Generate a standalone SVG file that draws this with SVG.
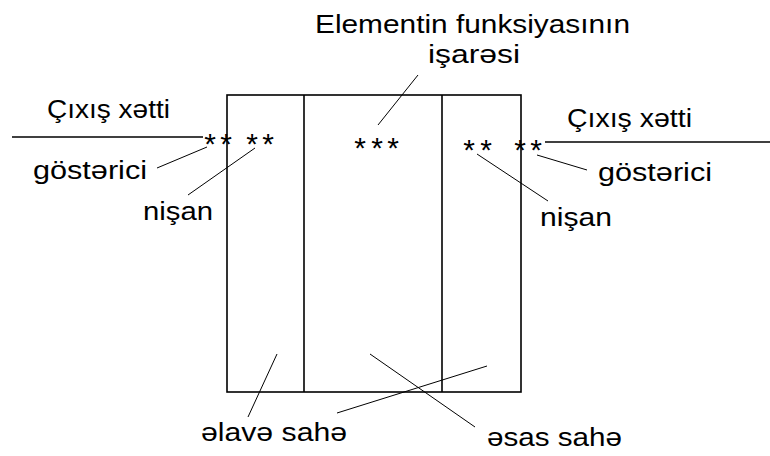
<svg xmlns="http://www.w3.org/2000/svg" width="770" height="456" viewBox="0 0 770 456">
<style>
text{font-family:"Liberation Sans",Arial,sans-serif;font-size:26px;fill:#000}
.ast{font-size:30px;text-anchor:middle}
.box{fill:none;stroke:#000;stroke-width:1.6}
.ln{stroke:#000;stroke-width:1.6;fill:none}
.ld{stroke:#000;stroke-width:1;fill:none}
</style>
<rect width="770" height="456" fill="#fff"/>
<g id="element">
<rect class="box" x="227" y="95" width="294" height="297"/>
<line class="box" x1="304" y1="95" x2="304" y2="392"/>
<line class="box" x1="442" y1="95" x2="442" y2="392"/>
<text class="ast" x="210 226 252 268" y="154">****</text>
<text class="ast" x="360 377 393" y="158">***</text>
<text class="ast" x="469 486 520 536" y="160">****</text>
</g>
<g id="title">
<text x="315" y="33" textLength="315" lengthAdjust="spacingAndGlyphs">Elementin funksiyasının</text>
<text x="428" y="63" textLength="92" lengthAdjust="spacingAndGlyphs">işarəsi</text>
</g>
<g id="left-labels">
<text x="47" y="118" textLength="123" lengthAdjust="spacingAndGlyphs">Çıxış xətti</text>
<text x="33" y="179" textLength="114" lengthAdjust="spacingAndGlyphs">göstərici</text>
<text x="143" y="220" textLength="70" lengthAdjust="spacingAndGlyphs">nişan</text>
</g>
<g id="right-labels">
<text x="567" y="127" textLength="125" lengthAdjust="spacingAndGlyphs">Çıxış xətti</text>
<text x="598" y="181" textLength="114" lengthAdjust="spacingAndGlyphs">göstərici</text>
<text x="540" y="226" textLength="72" lengthAdjust="spacingAndGlyphs">nişan</text>
</g>
<g id="bottom-labels">
<text x="201" y="441" textLength="146" lengthAdjust="spacingAndGlyphs">əlavə sahə</text>
<text x="487" y="446" textLength="135" lengthAdjust="spacingAndGlyphs">əsas sahə</text>
</g>
<g id="connectors">
<line class="ln" x1="12" y1="137" x2="203" y2="137"/>
<line class="ln" x1="545" y1="142" x2="770" y2="142"/>
<line class="ld" x1="157" y1="168" x2="207" y2="147"/>
<line class="ld" x1="188" y1="195" x2="255" y2="148"/>
<line class="ld" x1="537" y1="155" x2="587" y2="170"/>
<line class="ld" x1="477" y1="154" x2="548" y2="201"/>
<line class="ld" x1="418" y1="75" x2="378" y2="125"/>
<line class="ld" x1="277" y1="354" x2="248" y2="417"/>
<line class="ld" x1="337" y1="413" x2="487" y2="366"/>
<line class="ld" x1="370" y1="354" x2="475" y2="427"/>
</g>
</svg>
